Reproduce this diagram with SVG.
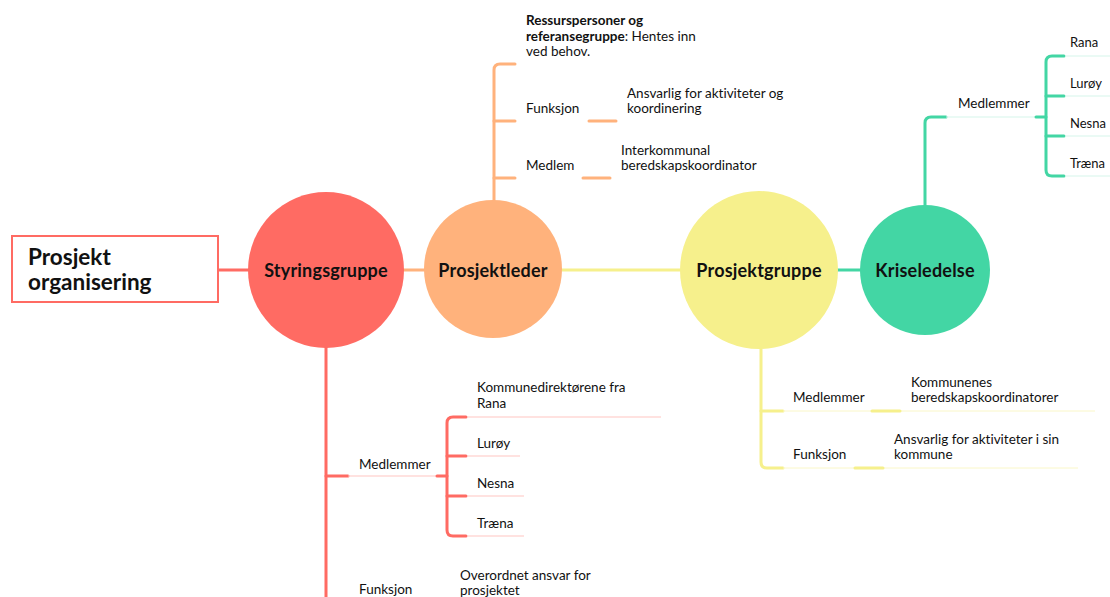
<svg xmlns="http://www.w3.org/2000/svg" width="1110" height="597" viewBox="0 0 1110 597">
<style>
text{font-family:Lato,"Noto Sans","Liberation Sans",sans-serif;fill:#111;font-variant-ligatures:none;}
.t{font-size:13.5px;}
.s{font-size:13px;}
.b{font-weight:bold;}
.c{font-size:18px;font-weight:bold;text-anchor:middle;letter-spacing:0.2px;}
.title{font-size:22.5px;font-weight:bold;}
.red{stroke:#FF6B63;fill:none;stroke-width:3;stroke-linecap:round;stroke-linejoin:round;}
.org{stroke:#FFB27C;fill:none;stroke-width:3;stroke-linecap:round;stroke-linejoin:round;}
.yel{stroke:#F6F08C;fill:none;stroke-width:3;stroke-linecap:round;stroke-linejoin:round;}
.grn{stroke:#43D6A4;fill:none;stroke-width:3;stroke-linecap:round;stroke-linejoin:round;}
.thinr{stroke:#FFC5C1;stroke-width:1;fill:none;}
.thiny{stroke:#FAF7C8;stroke-width:1;fill:none;}
.thing{stroke:#D5F5EA;stroke-width:1;fill:none;}
</style>
<rect width="1110" height="597" fill="#fff"/>
<g id="connectors">
  <line class="red" x1="218" y1="270" x2="250" y2="270"/>
  <line class="org" x1="402" y1="270" x2="426" y2="270"/>
  <line class="yel" x1="560" y1="270" x2="682" y2="270"/>
  <line class="grn" x1="837" y1="270" x2="862" y2="270"/>
  <path class="org" d="M494 202 V70 Q494 64 500 64 H515"/>
  <line class="org" x1="494" y1="121" x2="515" y2="121"/>
  <line class="org" x1="494" y1="178" x2="515" y2="178"/>
  <line class="org" x1="589" y1="121" x2="616" y2="121"/>
  <line class="org" x1="583" y1="178" x2="610" y2="178"/>
  <path class="grn" d="M925 207 V123 Q925 117 931 117 H946"/>
  <line class="thing" x1="946" y1="117" x2="1036" y2="117"/>
  <line class="grn" x1="1036" y1="117" x2="1046" y2="117"/>
  <path class="grn" d="M1064 56 H1052 Q1046 56 1046 62 V170 Q1046 176 1052 176 H1064"/>
  <line class="grn" x1="1046" y1="96" x2="1064" y2="96"/>
  <line class="grn" x1="1046" y1="136" x2="1064" y2="136"/>
  <line class="thing" x1="1065" y1="56" x2="1110" y2="56"/>
  <line class="thing" x1="1065" y1="96" x2="1110" y2="96"/>
  <line class="thing" x1="1065" y1="136" x2="1110" y2="136"/>
  <line class="thing" x1="1065" y1="176" x2="1110" y2="176"/>
  <path class="yel" d="M761 347 V462 Q761 468 767 468 H783"/>
  <line class="yel" x1="761" y1="411" x2="783" y2="411"/>
  <line class="thiny" x1="783" y1="411" x2="1095" y2="411"/>
  <line class="yel" x1="872" y1="411" x2="900" y2="411"/>
  <line class="thiny" x1="783" y1="468" x2="1078" y2="468"/>
  <line class="yel" x1="855" y1="468" x2="883" y2="468"/>
  <line class="red" x1="326" y1="346" x2="326" y2="600"/>
  <line class="red" x1="326" y1="476" x2="348" y2="476"/>
  <line class="thinr" x1="348" y1="476" x2="437" y2="476"/>
  <line class="red" x1="437" y1="476" x2="447" y2="476"/>
  <path class="red" d="M466 417 H453 Q447 417 447 423 V530 Q447 536 453 536 H466"/>
  <line class="red" x1="447" y1="456" x2="466" y2="456"/>
  <line class="red" x1="447" y1="496" x2="466" y2="496"/>
  <line class="thinr" x1="467" y1="417" x2="661" y2="417"/>
  <line class="thinr" x1="467" y1="456" x2="520" y2="456"/>
  <line class="thinr" x1="467" y1="496" x2="524" y2="496"/>
  <line class="thinr" x1="467" y1="536" x2="524" y2="536"/>
</g>
<g id="title">
  <rect x="12" y="236" width="206" height="66" fill="#fff" stroke="#FF6B63" stroke-width="2"/>
  <text class="title" x="28" y="265">Prosjekt</text>
  <text class="title" x="28" y="290">organisering</text>
</g>
<g id="styringsgruppe">
  <circle cx="326" cy="270" r="78" fill="#FF6B63"/>
  <text class="c" x="326" y="277">Styringsgruppe</text>
</g>
<g id="prosjektleder">
  <circle cx="493" cy="269" r="69" fill="#FFB27C"/>
  <text class="c" x="493" y="277">Prosjektleder</text>
</g>
<g id="prosjektgruppe">
  <circle cx="759" cy="270" r="79" fill="#F6F08C"/>
  <text class="c" x="759" y="277">Prosjektgruppe</text>
</g>
<g id="kriseledelse">
  <circle cx="925" cy="270" r="65" fill="#43D6A4"/>
  <text class="c" x="925" y="277">Kriseledelse</text>
</g>
<g id="prosjektleder-details">
  <text class="t" x="526" y="25"><tspan class="b">Ressurspersoner og</tspan></text>
  <text class="t" x="526" y="41"><tspan class="b">referansegruppe</tspan>: Hentes inn</text>
  <text class="t" x="526" y="56">ved behov.</text>
  <text class="t" x="526" y="113">Funksjon</text>
  <text class="t" x="627" y="98">Ansvarlig for aktiviteter og</text>
  <text class="t" x="627" y="113">koordinering</text>
  <text class="t" x="526" y="170">Medlem</text>
  <text class="t" x="621" y="155">Interkommunal</text>
  <text class="t" x="621" y="170">beredskapskoordinator</text>
</g>
<g id="kriseledelse-details">
  <text class="t" x="958" y="108">Medlemmer</text>
  <text class="s" x="1070" y="47">Rana</text>
  <text class="s" x="1070" y="88">Lurøy</text>
  <text class="s" x="1070" y="128">Nesna</text>
  <text class="s" x="1070" y="168">Træna</text>
</g>
<g id="prosjektgruppe-details">
  <text class="t" x="793" y="402">Medlemmer</text>
  <text class="t" x="911" y="387">Kommunenes</text>
  <text class="t" x="911" y="402">beredskapskoordinatorer</text>
  <text class="t" x="793" y="459">Funksjon</text>
  <text class="t" x="894" y="444">Ansvarlig for aktiviteter i sin</text>
  <text class="t" x="894" y="459">kommune</text>
</g>
<g id="styringsgruppe-details">
  <text class="t" x="359" y="469">Medlemmer</text>
  <text class="t" x="477" y="392">Kommunedirektørene fra</text>
  <text class="t" x="477" y="408">Rana</text>
  <text class="t" x="477" y="448">Lurøy</text>
  <text class="t" x="477" y="488">Nesna</text>
  <text class="t" x="477" y="528">Træna</text>
  <text class="t" x="359" y="594">Funksjon</text>
  <text class="t" x="460" y="580">Overordnet ansvar for</text>
  <text class="t" x="460" y="595">prosjektet</text>
</g>
</svg>
